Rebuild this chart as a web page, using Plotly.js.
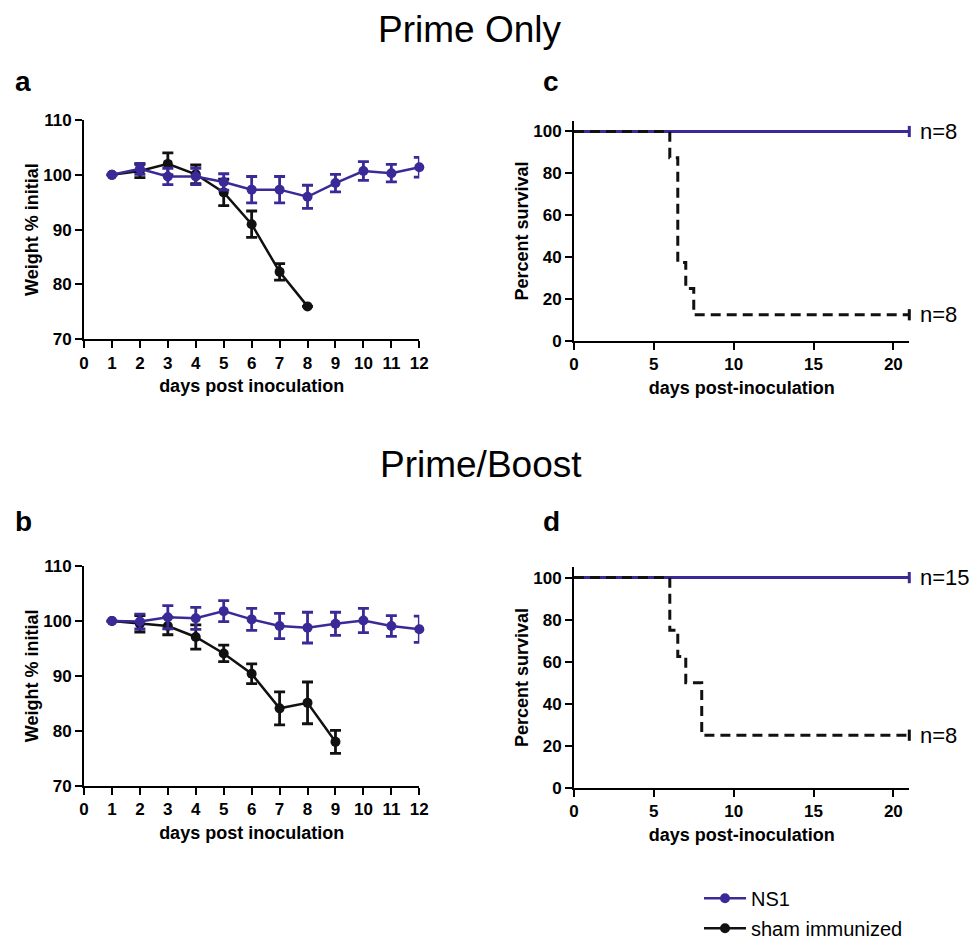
<!DOCTYPE html>
<html>
<head>
<meta charset="utf-8">
<script src="https://cdn.plot.ly/plotly-3.0.1.min.js"></script>
<style>
html,body{margin:0;padding:0;background:#fff;}
#chart{width:974px;height:948px;}
</style>
</head>
<body>
<div id="chart"></div>
<script>
// ---------------- DATA ----------------
const seriesNames = ['NS1', 'sham immunized'];

// Weight, Prime Only (panel a)
const primeNS1Days = [1, 2, 3, 4, 5, 6, 7, 8, 9, 10, 11, 12];
const primeNS1 = [100, 101.1, 99.7, 99.7, 98.7, 97.3, 97.3, 96.0, 98.5, 100.7, 100.3, 101.4];
const primeNS1Err = [null, 1.0, 1.5, 1.5, 1.5, 2.4, 2.4, 2.1, 1.6, 1.7, 1.6, 1.8];
const primeShamDays = [1, 2, 3, 4, 5, 6, 7, 8];
const primeSham = [100, 100.7, 102.0, 100.1, 96.8, 91.0, 82.3, 76.0];
const primeShamErr = [null, 1.2, 2.0, 1.7, 2.4, 2.4, 1.5, null];

// Weight, Prime/Boost (panel b)
const boostNS1Days = [1, 2, 3, 4, 5, 6, 7, 8, 9, 10, 11, 12];
const boostNS1 = [100, 99.9, 100.7, 100.5, 101.8, 100.3, 99.1, 98.8, 99.5, 100.1, 99.1, 98.5];
const boostNS1Err = [null, 1.35, 2.1, 2.0, 1.9, 2.0, 2.3, 2.8, 2.1, 2.2, 1.9, 2.4];
const boostShamDays = [1, 2, 3, 4, 5, 6, 7, 8, 9];
const boostSham = [100, 99.5, 99.1, 97.1, 94.1, 90.4, 84.1, 85.1, 78.0];
const boostShamErr = [null, 1.5, 1.6, 2.2, 1.5, 1.8, 3.0, 3.8, 2.1];

// Survival, Prime Only (panel c)
const survPrimeNS1T = [0, 21];
const survPrimeNS1 = [100, 100];
const survPrimeShamT = [0, 6, 6.5, 7, 7.5, 21];
const survPrimeSham = [100, 87.5, 37.5, 25, 12.5, 12.5];

// Survival, Prime/Boost (panel d)
const survBoostNS1T = [0, 21];
const survBoostNS1 = [100, 100];
const survBoostShamT = [0, 6, 6.5, 7, 8, 21];
const survBoostSham = [100, 75, 62.5, 50, 25, 25];

// Group sizes
const nPrimeNS1 = 'n=8', nPrimeSham = 'n=8';
const nBoostNS1 = 'n=15', nBoostSham = 'n=8';

// Tick labels
const weightXTicks = [0, 1, 2, 3, 4, 5, 6, 7, 8, 9, 10, 11, 12];
const weightYTicks = [70, 80, 90, 100, 110];
const survXTicks = [0, 5, 10, 15, 20];
const survYTicks = [0, 20, 40, 60, 80, 100];

// ---------------- STYLE ----------------
const BLUE = '#3a2a98';
const BLACK = '#111111';
const FONT = 'Liberation Sans, Arial, Helvetica, sans-serif';

function weightTrace(x, y, err, color, name, xa, ya, showleg, rank) {
  return {
    type: 'scatter', mode: 'lines+markers', x: x, y: y,
    xaxis: xa, yaxis: ya, name: name, showlegend: showleg,
    legendrank: rank, legendgroup: name,
    line: {color: color, width: 2.5},
    marker: {color: color, size: 10, symbol: 'circle'},
    error_y: {type: 'data', array: err, visible: true, color: color, thickness: 2.8, width: 5.5},
    cliponaxis: false, hoverinfo: 'x+y'
  };
}
function last(a) { return a[a.length - 1]; }
function survLine(t, s, color, dash, xa, ya) {
  return {
    type: 'scatter', mode: 'lines', x: t, y: s, xaxis: xa, yaxis: ya,
    line: {color: color, width: 3, shape: 'hv', dash: dash},
    showlegend: false, cliponaxis: false, hoverinfo: 'x+y'
  };
}
function censor(t, s, color, xa, ya) {
  return {
    type: 'scatter', mode: 'markers', x: [last(t)], y: [last(s)], xaxis: xa, yaxis: ya,
    marker: {symbol: 'line-ns-open', size: 8, line: {color: color, width: 3}, color: color},
    showlegend: false, cliponaxis: false, hoverinfo: 'skip'
  };
}

const data = [
  // panel a
  weightTrace(primeShamDays, primeSham, primeShamErr, BLACK, seriesNames[1], 'x', 'y', true, 2),
  weightTrace(primeNS1Days, primeNS1, primeNS1Err, BLUE, seriesNames[0], 'x', 'y', true, 1),
  // panel b
  weightTrace(boostShamDays, boostSham, boostShamErr, BLACK, seriesNames[1], 'x3', 'y3', false, 2),
  weightTrace(boostNS1Days, boostNS1, boostNS1Err, BLUE, seriesNames[0], 'x3', 'y3', false, 1),
  // panel c
  survLine(survPrimeNS1T, survPrimeNS1, BLUE, 'solid', 'x2', 'y2'),
  survLine(survPrimeShamT, survPrimeSham, BLACK, '10px,6px', 'x2', 'y2'),
  censor(survPrimeNS1T, survPrimeNS1, BLUE, 'x2', 'y2'),
  censor(survPrimeShamT, survPrimeSham, BLACK, 'x2', 'y2'),
  // panel d
  survLine(survBoostNS1T, survBoostNS1, BLUE, 'solid', 'x4', 'y4'),
  survLine(survBoostShamT, survBoostSham, BLACK, '10px,6px', 'x4', 'y4'),
  censor(survBoostNS1T, survBoostNS1, BLUE, 'x4', 'y4'),
  censor(survBoostShamT, survBoostSham, BLACK, 'x4', 'y4')
];

const W = 974, H = 948;
const px = v => v / W;
const py = v => 1 - v / H;

function axisBase(extra) {
  return Object.assign({
    showline: true, linecolor: '#000', linewidth: 2,
    ticks: 'outside', ticklen: 7, tickwidth: 2, tickcolor: '#000',
    showgrid: false, zeroline: false, fixedrange: true,
    tickfont: {family: FONT, size: 17, color: '#000', weight: 'bold'}
  }, extra);
}
function axTitle(text, standoff) {
  return {text: text, standoff: standoff, font: {family: FONT, size: 18, color: '#000', weight: 'bold'}};
}

const weightXDomain = [px(84), px(419.3)];
const survXDomain = [px(574), px(909.3)];

const layout = {
  width: W, height: H,
  margin: {l: 0, r: 0, t: 0, b: 0},
  paper_bgcolor: '#fff', plot_bgcolor: 'rgba(0,0,0,0)',
  font: {family: FONT, color: '#000'},
  showlegend: true,
  legend: {
    x: px(699), y: py(891), xanchor: 'left', yanchor: 'top',
    font: {family: FONT, size: 20, color: '#000'}, itemwidth: 42,
    traceorder: 'grouped', tracegroupgap: 1, bgcolor: 'rgba(0,0,0,0)'
  },
  xaxis: axisBase({domain: weightXDomain, anchor: 'y', range: [0, 12], tickvals: weightXTicks,
    title: axTitle('days post inoculation', 8)}),
  yaxis: axisBase({domain: [py(344), py(121.7)], anchor: 'x', range: [70, 110], tickvals: weightYTicks,
    title: axTitle('Weight % initial', 0)}),
  xaxis2: axisBase({domain: survXDomain, anchor: 'y2', range: [0, 21], tickvals: survXTicks,
    title: axTitle('days post-inoculation', 8)}),
  yaxis2: axisBase({domain: [py(345.7), py(122.7)], anchor: 'x2', range: [0, 105], tickvals: survYTicks,
    title: axTitle('Percent survival', 0)}),
  xaxis3: axisBase({domain: weightXDomain, anchor: 'y3', range: [0, 12], tickvals: weightXTicks,
    title: axTitle('days post inoculation', 8)}),
  yaxis3: axisBase({domain: [py(796.7), py(574)], anchor: 'x3', range: [70, 110], tickvals: weightYTicks,
    title: axTitle('Weight % initial', 0)}),
  xaxis4: axisBase({domain: survXDomain, anchor: 'y4', range: [0, 21], tickvals: survXTicks,
    title: axTitle('days post-inoculation', 8)}),
  yaxis4: axisBase({domain: [py(798.7), py(575)], anchor: 'x4', range: [0, 105], tickvals: survYTicks,
    title: axTitle('Percent survival', 0)}),
  annotations: [
    {text: 'Prime Only', xref: 'paper', yref: 'paper', x: px(469), y: py(30), xanchor: 'center', yanchor: 'middle',
      showarrow: false, font: {family: FONT, size: 37, color: '#000'}},
    {text: 'Prime/Boost', xref: 'paper', yref: 'paper', x: px(481), y: py(471), xanchor: 'center', yanchor: 'middle',
      showarrow: false, font: {family: FONT, size: 37, color: '#000'}},
    {text: 'a', xref: 'paper', yref: 'paper', x: px(13), y: py(83), xanchor: 'left', yanchor: 'middle',
      showarrow: false, font: {family: FONT, size: 28, color: '#000', weight: 'bold'}},
    {text: 'c', xref: 'paper', yref: 'paper', x: px(541), y: py(83), xanchor: 'left', yanchor: 'middle',
      showarrow: false, font: {family: FONT, size: 28, color: '#000', weight: 'bold'}},
    {text: 'b', xref: 'paper', yref: 'paper', x: px(13), y: py(529), xanchor: 'left', yanchor: 'middle',
      showarrow: false, font: {family: FONT, size: 28, color: '#000', weight: 'bold'}},
    {text: 'd', xref: 'paper', yref: 'paper', x: px(541), y: py(529), xanchor: 'left', yanchor: 'middle',
      showarrow: false, font: {family: FONT, size: 28, color: '#000', weight: 'bold'}},
    {text: nPrimeNS1, xref: 'x2', yref: 'y2', x: last(survPrimeNS1T), y: last(survPrimeNS1), xanchor: 'left', yanchor: 'middle',
      xshift: 9, showarrow: false, font: {family: FONT, size: 22, color: '#000'}},
    {text: nPrimeSham, xref: 'x2', yref: 'y2', x: last(survPrimeShamT), y: last(survPrimeSham), xanchor: 'left', yanchor: 'middle',
      xshift: 9, showarrow: false, font: {family: FONT, size: 22, color: '#000'}},
    {text: nBoostNS1, xref: 'x4', yref: 'y4', x: last(survBoostNS1T), y: last(survBoostNS1), xanchor: 'left', yanchor: 'middle',
      xshift: 9, showarrow: false, font: {family: FONT, size: 22, color: '#000'}},
    {text: nBoostSham, xref: 'x4', yref: 'y4', x: last(survBoostShamT), y: last(survBoostSham), xanchor: 'left', yanchor: 'middle',
      xshift: 9, showarrow: false, font: {family: FONT, size: 22, color: '#000'}}
  ]
};

Plotly.newPlot('chart', data, layout, {displayModeBar: false, staticPlot: true});
</script>
</body>
</html>
